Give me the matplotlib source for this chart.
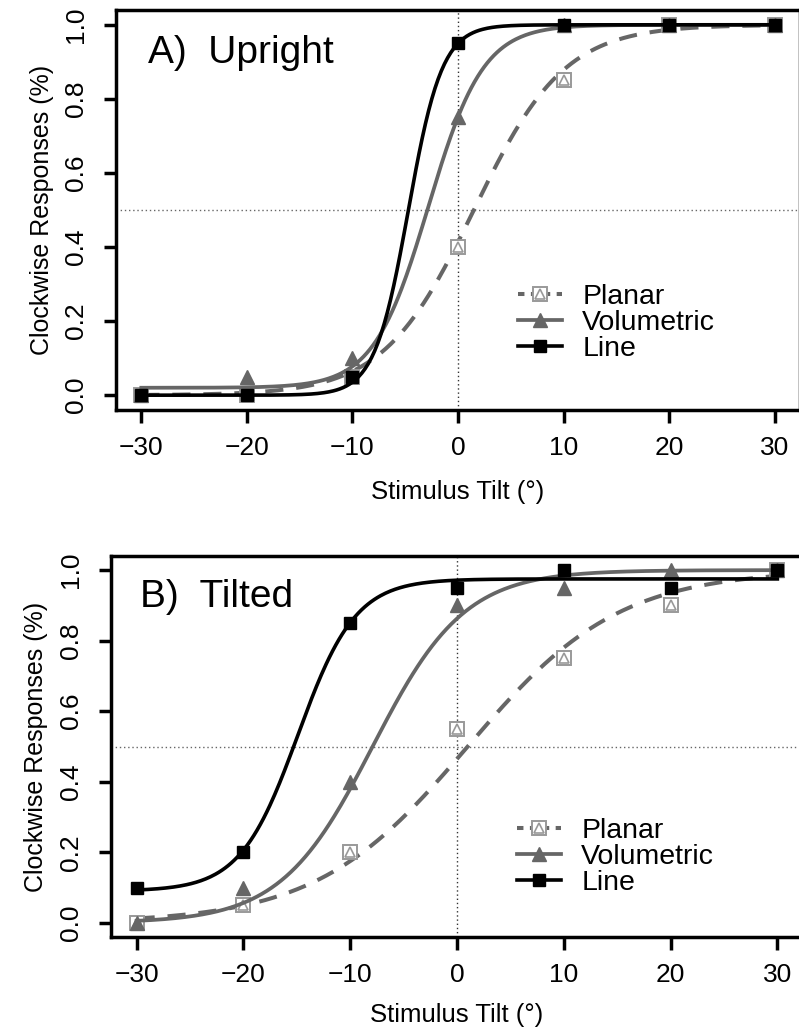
import numpy as np
import matplotlib
matplotlib.use("Agg")
import matplotlib.pyplot as plt
from matplotlib.lines import Line2D
from matplotlib.legend_handler import HandlerTuple

plt.rcParams['font.family'] = ['Liberation Sans', 'DejaVu Sans']

# ---------------- data ----------------
tilts = [-30, -20, -10, 0, 10, 20, 30]

# Panel A (Upright)
a_planar = [0.00, 0.00, 0.05, 0.40, 0.85, 1.00, 1.00]
a_volumetric = [0.00, 0.05, 0.10, 0.75, 1.00, 1.00, 1.00]
a_line = [0.00, 0.00, 0.05, 0.95, 1.00, 1.00, 1.00]

# Panel B (Tilted)
b_planar = [0.00, 0.05, 0.20, 0.55, 0.75, 0.90, 1.00]
b_volumetric = [0.00, 0.10, 0.40, 0.90, 0.95, 1.00, 1.00]
b_line = [0.10, 0.20, 0.85, 0.95, 1.00, 0.95, 1.00]

# fitted psychometric parameters: (mu, slope scale, lower asymptote, upper asymptote)
a_fit_planar = (1.5, 4.3, 0.0, 1.0)
a_fit_volumetric = (-2.8, 2.6, 0.02, 1.0)
a_fit_line = (-4.7, 1.6, 0.0, 1.0)
b_fit_planar = (1.0, 7.1, 0.0, 1.0)
b_fit_volumetric = (-7.9, 4.3, 0.0, 1.0)
b_fit_line = (-14.9, 2.7, 0.09, 0.975)

series_labels = ["Planar", "Volumetric", "Line"]
x_ticks = [-30, -20, -10, 0, 10, 20, 30]
y_ticks = [0.0, 0.2, 0.4, 0.6, 0.8, 1.0]
y_ticklabels = ["0.0", "0.2", "0.4", "0.6", "0.8", "1.0"]
panel_titles = ["A)  Upright", "B)  Tilted"]
xlabel = "Stimulus Tilt (°)"
ylabel = "Clockwise Responses (%)"


def psych(x, p):
    mu, s, g, u = p
    return g + (u - g) / (1.0 + np.exp(-(x - mu) / s))


GRAY = "#666666"
PGRAY = "#999999"

fig = plt.figure(figsize=(7.99, 10.34), dpi=100)
axA = fig.add_axes([116 / 799, 1 - 410 / 1034, 684 / 799, 400 / 1034])
axB = fig.add_axes([111 / 799, 1 - 937 / 1034, 692 / 799, 381 / 1034])

panels = [
    (axA, a_planar, a_volumetric, a_line, a_fit_planar, a_fit_volumetric, a_fit_line,
     panel_titles[0], (0.047, 0.8675), (0.588, 0.2175)),
    (axB, b_planar, b_volumetric, b_line, b_fit_planar, b_fit_volumetric, b_fit_line,
     panel_titles[1], (0.042, 0.866), (0.587, 0.21)),
]

xs = np.linspace(tilts[0], tilts[-1], 400)

for (ax, pl, vo, li, fp, fv, fl, title, tpos, lpos) in panels:
    ax.set_xlim(-32.4, 32.4)
    ax.set_ylim(-0.04, 1.04)

    ax.axvline(0, color="#333333", lw=1.0, ls=(0, (1, 2)), zorder=1)
    ax.axhline(0.5, color="#666666", lw=1.0, ls=(0, (1, 2)), zorder=1)

    # planar
    ax.plot(xs, psych(xs, fp), color=GRAY, lw=2.9, ls=(0, (4.5, 3.2)), zorder=2)
    ax.plot(tilts, pl, ls="none", marker="s", ms=9.5, mfc="white", mec=PGRAY, mew=1.4, zorder=3)
    ax.plot(tilts, pl, ls="none", marker="^", ms=7, mfc="none", mec=PGRAY, mew=1.2, zorder=4)
    # volumetric
    ax.plot(xs, psych(xs, fv), color=GRAY, lw=2.7, zorder=5)
    ax.plot(tilts, vo, ls="none", marker="^", ms=10.5, color=GRAY, zorder=6)
    # line
    ax.plot(xs, psych(xs, fl), color="black", lw=2.6, zorder=7)
    ax.plot(tilts, li, ls="none", marker="s", ms=9, color="black", zorder=8)

    for sp in ax.spines.values():
        sp.set_linewidth(2.5)
    ax.set_xticks(x_ticks)
    ax.set_yticks(y_ticks)
    ax.set_yticklabels(y_ticklabels, rotation=90, va="center")
    ax.tick_params(direction="out", length=9, width=2.5, labelsize=19, pad=10)
    ax.tick_params(axis="y", pad=11)

    ax.set_xlabel(xlabel, fontsize=18.5, va="center")
    ax.xaxis.set_label_coords(0.5, -0.205)
    ax.set_ylabel(ylabel, fontsize=18, va="center")
    ax.yaxis.set_label_coords(-74 / 684, 0.5)

    ax.text(tpos[0], tpos[1], title, transform=ax.transAxes, fontsize=28,
            ha="left", va="baseline")

    h_pl = (Line2D([], [], color=GRAY, lw=2.9, ls=(0, (1.6, 1.6))),
            Line2D([], [], ls="none", marker="s", ms=9.5, mfc="white", mec=PGRAY, mew=1.4),
            Line2D([], [], ls="none", marker="^", ms=7, mfc="none", mec=PGRAY, mew=1.2))
    h_vo = Line2D([], [], color=GRAY, lw=2.7, marker="^", ms=10.5)
    h_li = Line2D([], [], color="black", lw=2.6, marker="s", ms=9)
    ax.legend([h_pl, h_vo, h_li], series_labels,
              handler_map={tuple: HandlerTuple(ndivide=1, pad=0)},
              loc="center left", bbox_to_anchor=lpos, frameon=False,
              fontsize=20.5, handlelength=1.55, handletextpad=0.7,
              labelspacing=0.0, borderpad=0, borderaxespad=0)

fig.savefig("out.png", dpi=100)
